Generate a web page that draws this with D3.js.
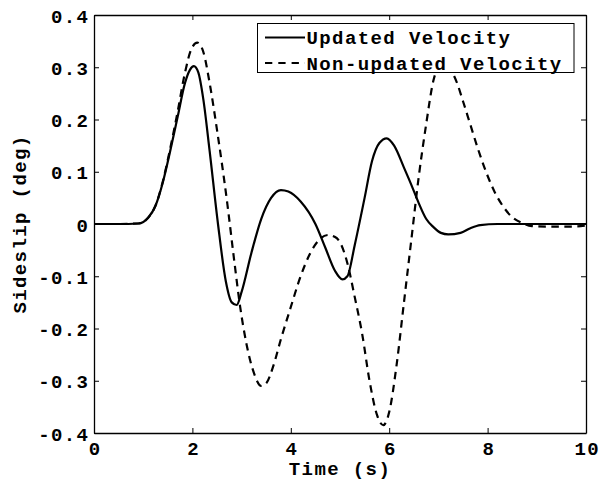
<!DOCTYPE html>
<html>
<head>
<meta charset="utf-8">
<script src="https://cdn.jsdelivr.net/npm/d3@7"></script>
<style>
  body { margin: 0; background: #fff; }
  text { font-family: "Liberation Mono", monospace; font-weight: bold; fill: #000; }
</style>
</head>
<body>
<div id="chart"></div>
<script>
// time (s) and sideslip (deg)
var updatedTime = [0, 0.5, 0.9, 1.1, 1.25, 1.4, 1.55, 1.7, 1.85, 1.95, 2.03, 2.12, 2.22, 2.35, 2.52, 2.68, 2.8, 2.9,
    3.0, 3.2, 3.4, 3.6, 3.8, 3.95, 4.2, 4.5, 4.7, 4.9, 5.05, 5.15, 5.3, 5.5, 5.65, 5.8, 5.95, 6.1, 6.3, 6.45,
    6.6, 6.75, 6.9, 7.05, 7.2, 7.45, 7.65, 7.85, 8.2, 10];
var updatedSideslip = [0, 0, 0.001, 0.012, 0.035, 0.08, 0.14, 0.205, 0.27, 0.295, 0.302, 0.29, 0.24, 0.14, 0.0, -0.11, -0.15, -0.155,
    -0.13, -0.055, 0.01, 0.05, 0.065, 0.062, 0.043, 0.0, -0.045, -0.09, -0.106, -0.1, -0.04, 0.05, 0.12, 0.155, 0.164, 0.15, 0.108, 0.075,
    0.04, 0.01, -0.006, -0.017, -0.02, -0.017, -0.008, -0.002, 0, 0];

var nonUpdatedTime = [0, 0.5, 0.9, 1.1, 1.25, 1.4, 1.55, 1.7, 1.85, 1.98, 2.1, 2.22, 2.35, 2.5, 2.7, 2.85, 2.97,
    3.1, 3.25, 3.4, 3.5, 3.65, 3.8, 3.98, 4.2, 4.4, 4.6, 4.76, 4.9, 5.0, 5.15, 5.3, 5.45, 5.6, 5.75, 5.88,
    6.0, 6.15, 6.3, 6.45, 6.6, 6.75, 6.9, 7.05, 7.2, 7.37, 7.5, 7.64, 7.8, 7.98, 8.15, 8.32, 8.5, 8.7,
    8.9, 9.2, 9.7, 10];
var nonUpdatedSideslip = [0, 0, 0.001, 0.012, 0.035, 0.082, 0.145, 0.215, 0.29, 0.335, 0.347, 0.33, 0.27, 0.18, 0.046, -0.07, -0.158,
    -0.23, -0.285, -0.31, -0.305, -0.27, -0.22, -0.165, -0.1, -0.055, -0.028, -0.021, -0.025, -0.035, -0.075, -0.14, -0.21, -0.3, -0.365, -0.385,
    -0.36, -0.27, -0.15, -0.03, 0.09, 0.19, 0.275, 0.305, 0.3, 0.272, 0.235, 0.193, 0.145, 0.097, 0.06, 0.033, 0.013, 0.002,
    -0.004, -0.005, -0.005, -0.003];

var xTicks = [0, 2, 4, 6, 8, 10];
var yTicks = [-0.4, -0.3, -0.2, -0.1, 0, 0.1, 0.2, 0.3, 0.4];
var seriesNames = ['Updated Velocity', 'Non-updated Velocity'];

function pairs(ts, vs) {
    'use strict';
    return ts.map(function (t, i) { return [t, vs[i]]; });
}

function yLabel(d) {
    'use strict';
    if (d === 0) { return '0'; }
    return d3.format('.1f')(d).replace('\u2212', '-');
}

function init() {
    'use strict';
    var left = 94, right = 586, top = 15, bottom = 433;
    var svg = d3.select('#chart').append('svg')
        .attr('width', 599)
        .attr('height', 481);

    var x = d3.scaleLinear().domain([0, 10]).range([left, right]);
    var y = d3.scaleLinear().domain([-0.4, 0.4]).range([bottom, top]);

    svg.append('clipPath').attr('id', 'plotclip')
        .append('rect').attr('x', left).attr('y', top)
        .attr('width', right - left).attr('height', bottom - top);

    var line = d3.line()
        .x(function (d) { return x(d[0]); })
        .y(function (d) { return y(d[1]); })
        .curve(d3.curveMonotoneX);

    var plot = svg.append('g').attr('clip-path', 'url(#plotclip)');
    plot.append('path')
        .datum(pairs(nonUpdatedTime, nonUpdatedSideslip))
        .attr('d', line)
        .attr('fill', 'none')
        .attr('stroke', '#000')
        .attr('stroke-width', 2.2)
        .attr('stroke-dasharray', '7.5,5.5');
    plot.append('path')
        .datum(pairs(updatedTime, updatedSideslip))
        .attr('d', line)
        .attr('fill', 'none')
        .attr('stroke', '#000')
        .attr('stroke-width', 2.2);

    // axes, ticks pointing inward on every side
    var axB = d3.axisBottom(x).tickValues(xTicks).tickSizeInner(-5).tickSizeOuter(0).tickPadding(9);
    var axT = d3.axisTop(x).tickValues(xTicks).tickSizeInner(-5).tickSizeOuter(0).tickFormat('');
    var axL = d3.axisLeft(y).tickValues(yTicks).tickSizeInner(-5).tickSizeOuter(0).tickPadding(6).tickFormat(yLabel);
    var axR = d3.axisRight(y).tickValues(yTicks).tickSizeInner(-5).tickSizeOuter(0).tickFormat('');

    var gB = svg.append('g').attr('transform', 'translate(0,' + bottom + ')').call(axB);
    svg.append('g').attr('transform', 'translate(0,' + top + ')').call(axT);
    var gL = svg.append('g').attr('transform', 'translate(' + left + ',0)').call(axL);
    svg.append('g').attr('transform', 'translate(' + right + ',0)').call(axR);

    svg.selectAll('.domain').attr('stroke', '#000').attr('stroke-width', 1.3);
    svg.selectAll('.tick line').attr('stroke', '#000').attr('stroke-width', 1);
    svg.selectAll('.tick text')
        .attr('font-family', '"Liberation Mono", monospace')
        .attr('font-weight', 'bold')
        .attr('font-size', 19)
        .attr('letter-spacing', 1.4)
        .attr('fill', '#000');
    gB.selectAll('.tick text').attr('dx', 0.7);
    gL.selectAll('.tick text').attr('dy', '0.38em').attr('dx', 1.4);

    svg.append('text')
        .attr('x', (left + right) / 2)
        .attr('y', 475)
        .attr('text-anchor', 'middle')
        .attr('font-size', 19)
        .attr('letter-spacing', 1.4)
        .text('Time (s)');

    svg.append('text')
        .attr('transform', 'translate(26,' + ((top + bottom) / 2) + ') rotate(-90)')
        .attr('text-anchor', 'middle')
        .attr('font-size', 19)
        .attr('letter-spacing', 1.4)
        .text('Sideslip (deg)');

    // legend
    var lg = svg.append('g');
    lg.append('rect')
        .attr('x', 257.5).attr('y', 23.5)
        .attr('width', 316.5).attr('height', 49)
        .attr('fill', '#fff')
        .attr('stroke', '#000')
        .attr('stroke-width', 1);
    var rows = lg.selectAll('g.row').data(seriesNames).enter().append('g')
        .attr('class', 'row')
        .attr('transform', function (d, i) { return 'translate(0,' + (37.5 + i * 25.5) + ')'; });
    rows.append('line')
        .attr('x1', 265).attr('x2', 305)
        .attr('stroke', '#000')
        .attr('stroke-width', 2.2)
        .attr('stroke-dasharray', function (d, i) { return i === 1 ? '7.3,6' : null; });
    rows.append('text')
        .attr('x', 306.5)
        .attr('dy', '0.36em')
        .attr('font-size', 19)
        .attr('letter-spacing', 1.4)
        .text(function (d) { return d; });
}

window.onload = init;
</script>
</body>
</html>
